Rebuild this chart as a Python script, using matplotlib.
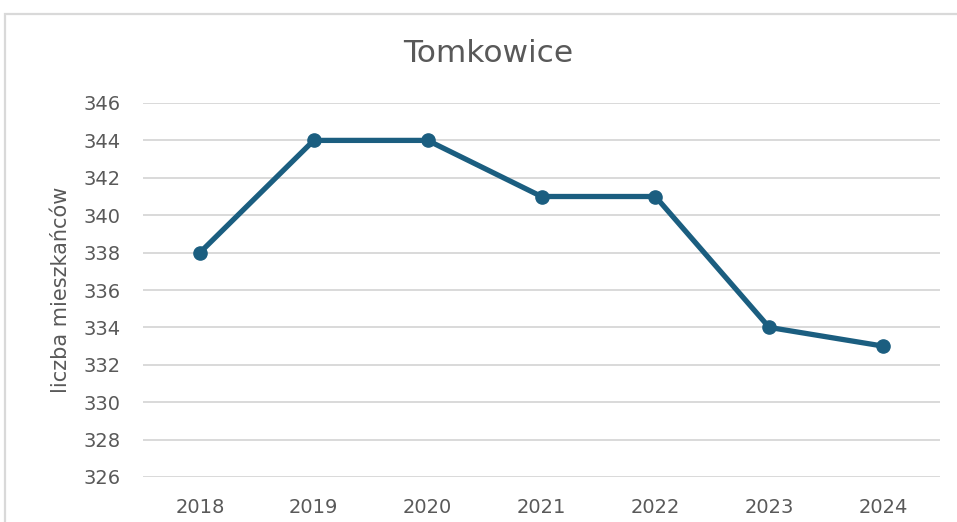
import matplotlib
matplotlib.use("Agg")
import matplotlib.pyplot as plt
from matplotlib.patches import Rectangle

years = ["2018", "2019", "2020", "2021", "2022", "2023", "2024"]
residents = [338, 344, 344, 341, 341, 334, 333]
y_ticks = [326, 328, 330, 332, 334, 336, 338, 340, 342, 344, 346]
title = "Tomkowice"
ylabel = "liczba mieszkańców"

W, H = 957, 522
fig = plt.figure(figsize=(W / 100, H / 100), dpi=100)
fig.patch.set_facecolor("white")

# outer chart frame (cropped at right and bottom)
fig.add_artist(Rectangle((5 / W, -0.05), 1.2, (H - 14) / H + 0.05,
                         transform=fig.transFigure, fill=False,
                         edgecolor="#d9d9d9", linewidth=1.6))

ax = fig.add_axes([143 / W, 1 - 477 / H, (940 - 143) / W, (477 - 103) / H])
x = list(range(len(years)))
ax.plot(x, residents, color="#1b5e80", linewidth=3.8, marker="o",
        markersize=9.5, solid_capstyle="round", zorder=3)

ax.set_xlim(-0.5, len(years) - 0.5)
ax.set_ylim(y_ticks[0], y_ticks[-1])
ax.set_yticks(y_ticks)
ax.set_xticks(x)
ax.set_xticklabels(years)
ax.grid(axis="y", color="#d9d9d9", linewidth=1.4)
ax.set_axisbelow(True)
for s in ax.spines.values():
    s.set_visible(False)
ax.tick_params(axis="both", length=0, labelsize=14, labelcolor="#595959")
ax.tick_params(axis="y", pad=16)
ax.tick_params(axis="x", pad=15)
ax.set_ylabel(ylabel, fontsize=15, color="#595959", labelpad=9)

fig.text(488 / W, 1 - 53 / H, title, ha="center", va="center",
         fontsize=22.5, color="#595959")

fig.savefig("out.png", dpi=100, facecolor="white")
